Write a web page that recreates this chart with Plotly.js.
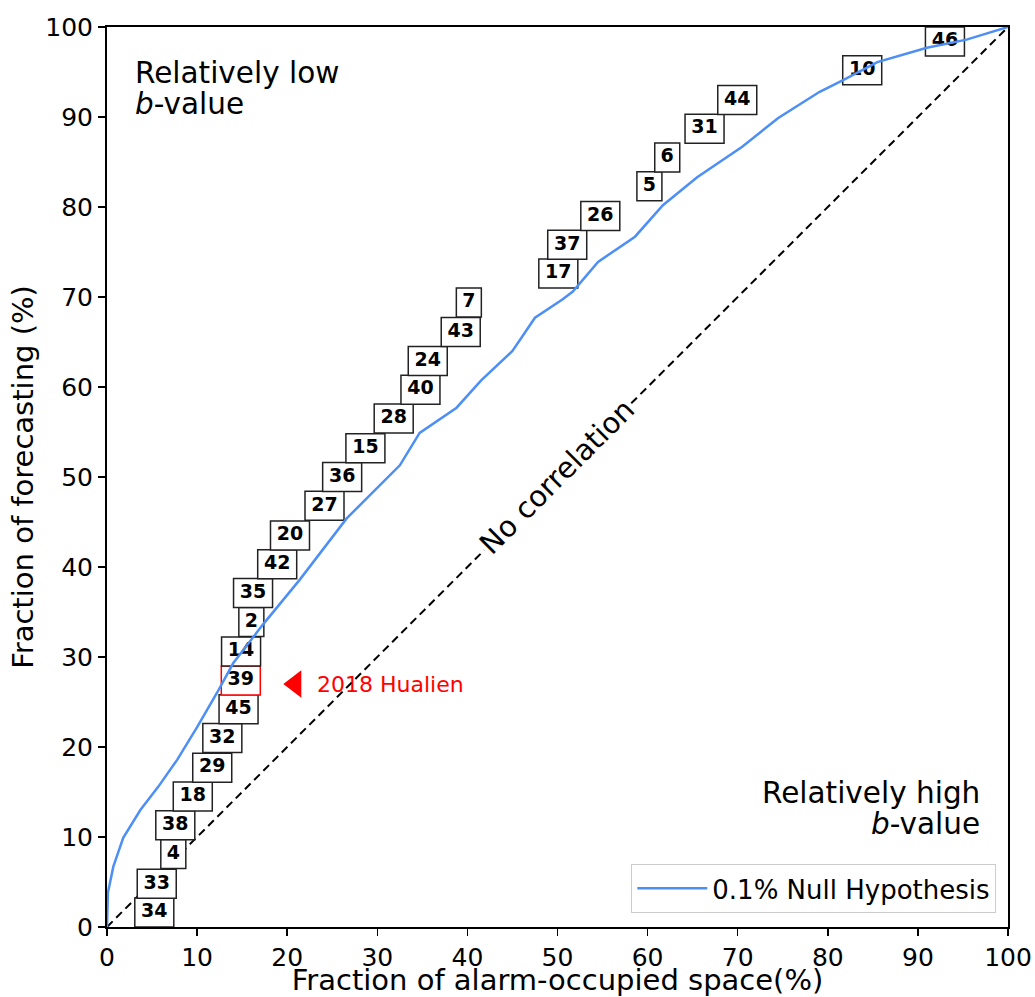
<!DOCTYPE html>
<html>
<head>
<meta charset="utf-8">
<script src="https://cdn.plot.ly/plotly-3.0.1.min.js"></script>
<style>html,body{margin:0;padding:0;background:#fff;}#chart{width:1035px;height:997px;}</style>
</head>
<body>
<div id="chart"></div>
<script>
// Null hypothesis curve (0.1%)
var nullX = [0, 0.1, 0.7, 1.8, 3.7, 5.7, 7.8, 10.0, 12.2, 14.0, 17.3, 21.4, 26.6, 32.5, 34.7, 38.8, 41.5, 45.0, 47.5, 50.5, 51.7, 54.5, 58.6, 61.7, 65.5, 70.5, 74.5, 79.1, 81.7, 85.5, 91.0, 95.4, 100];
var nullY = [0, 3.8, 6.7, 9.9, 13.0, 15.6, 18.6, 22.2, 26.0, 29.3, 33.6, 38.6, 45.4, 51.3, 54.9, 57.7, 60.7, 64.0, 67.7, 69.7, 70.6, 73.9, 76.7, 80.2, 83.3, 86.7, 89.9, 92.8, 94.1, 96.1, 97.7, 98.6, 100];

// Event labels
var eventLabels = ["34","33","4","38","18","29","32","45","39","14","2","35","42","20","27","36","15","28","40","24","43","7","17","37","26","5","6","31","44","10","46"];
var eventX = [5.25, 5.52, 7.36, 7.58, 9.52, 11.68, 12.80, 14.60, 14.85, 14.88, 16.02, 16.21, 18.89, 20.31, 24.14, 26.10, 28.68, 31.82, 34.79, 35.60, 39.26, 40.16, 50.09, 51.08, 54.75, 60.20, 62.18, 66.32, 69.95, 83.82, 93.00];
var eventY = [1.6, 4.8, 8.1, 11.3, 14.5, 17.7, 21.0, 24.2, 27.4, 30.6, 33.9, 37.1, 40.3, 43.5, 46.8, 50.0, 53.2, 56.5, 59.7, 62.9, 66.1, 69.4, 72.6, 75.8, 79.0, 82.3, 85.5, 88.7, 91.9, 95.2, 98.4];
var highlightLabel = "39";

// No-correlation diagonal
var diagX = [0, 100];
var diagY = [0, 100];

// Hualien marker
var hualienX = [20.9];
var hualienY = [27.0];
var hualienText = "2018 Hualien";
var hualienTextX = 23.1;

var tickVals = [0,10,20,30,40,50,60,70,80,90,100];

var FONT = "DejaVu Sans, Liberation Sans, sans-serif";

var shapes = [];
shapes.push({
  type: 'line', layer: 'below', xref: 'x', yref: 'y',
  x0: diagX[0], y0: diagY[0], x1: diagX[1], y1: diagY[1],
  line: {color: 'black', width: 2, dash: '8px,5px'}
});
for (var i = 0; i < eventLabels.length; i++) {
  var hw = eventLabels[i].length === 1 ? 12.5 : 19.5;
  shapes.push({
    type: 'rect', layer: 'below', xref: 'x', yref: 'y',
    xsizemode: 'pixel', ysizemode: 'pixel',
    xanchor: eventX[i], yanchor: eventY[i],
    x0: -hw, x1: hw, y0: -14.5, y1: 14.5,
    fillcolor: 'white',
    line: {color: eventLabels[i] === highlightLabel ? 'red' : '#222222', width: 1.5}
  });
}

var traces = [
  {
    x: eventX, y: eventY, text: eventLabels, mode: 'text', type: 'scatter',
    textposition: 'middle center',
    textfont: {family: FONT, size: 19, color: 'black', weight: 'bold'},
    showlegend: false, hoverinfo: 'skip'
  },
  {
    x: hualienX, y: hualienY, mode: 'markers', type: 'scatter',
    marker: {symbol: 'triangle-left', size: 24, color: 'red'},
    showlegend: false, hoverinfo: 'skip'
  },
  {
    x: nullX, y: nullY, mode: 'lines', type: 'scatter',
    name: '0.1% Null Hypothesis',
    line: {color: '#4d8ff5', width: 2.5},
    hoverinfo: 'skip'
  }
];

var annotations = [
  {xref:'x', yref:'y', x: 2.9, y: 94.9, xanchor:'left', yanchor:'middle', showarrow:false,
   text:'Relatively low', font:{family:FONT, size:29.5, color:'black'}},
  {xref:'x', yref:'y', x: 2.9, y: 91.4, xanchor:'left', yanchor:'middle', showarrow:false,
   text:'<i>b</i>-value', font:{family:FONT, size:29.5, color:'black'}},
  {xref:'x', yref:'y', x: 97.1, y: 14.9, xanchor:'right', yanchor:'middle', showarrow:false,
   text:'Relatively high', font:{family:FONT, size:29.5, color:'black'}},
  {xref:'x', yref:'y', x: 97.1, y: 11.5, xanchor:'right', yanchor:'middle', showarrow:false,
   text:'<i>b</i>-value', font:{family:FONT, size:29.5, color:'black'}},
  {xref:'x', yref:'y', x: 49.9, y: 50.0, xanchor:'center', yanchor:'middle', showarrow:false,
   text:'No correlation', textangle: -45, bgcolor:'white', borderpad: 1,
   font:{family:FONT, size:29, color:'black'}},
  {xref:'x', yref:'y', x: hualienTextX, y: hualienY[0], xanchor:'left', yanchor:'middle', showarrow:false,
   text: hualienText, font:{family:FONT, size:22, color:'red'}}
];

var layout = {
  width: 1035, height: 997,
  margin: {l: 107, r: 27, t: 27, b: 70, pad: 0},
  paper_bgcolor: 'white', plot_bgcolor: 'white',
  font: {family: FONT, color: 'black'},
  showlegend: true,
  legend: {
    x: 0.987, xanchor: 'right', y: 0.0156, yanchor: 'bottom',
    bgcolor: 'white', bordercolor: '#cccccc', borderwidth: 1,
    font: {family: FONT, size: 26, color: 'black'},
    itemwidth: 70
  },
  xaxis: {
    range: [0, 100], tickvals: tickVals, ticks: 'outside', ticklen: 7, tickwidth: 1.5, tickcolor: 'black',
    showgrid: false, zeroline: false, showline: true, mirror: true, linecolor: 'black', linewidth: 2,
    tickfont: {family: FONT, size: 25, color: 'black'},
    title: {text: 'Fraction of alarm-occupied space(%)', font: {family: FONT, size: 29, color: 'black'}, standoff: 7}
  },
  yaxis: {
    range: [0, 100], tickvals: tickVals, ticks: 'outside', ticklen: 7, tickwidth: 1.5, tickcolor: 'black',
    showgrid: false, zeroline: false, showline: true, mirror: true, linecolor: 'black', linewidth: 2,
    tickfont: {family: FONT, size: 25, color: 'black'},
    title: {text: 'Fraction of forecasting (%)', font: {family: FONT, size: 29, color: 'black'}, standoff: 3}
  },
  shapes: shapes,
  annotations: annotations
};

Plotly.newPlot('chart', traces, layout, {displayModeBar: false, staticPlot: true});
</script>
</body>
</html>
